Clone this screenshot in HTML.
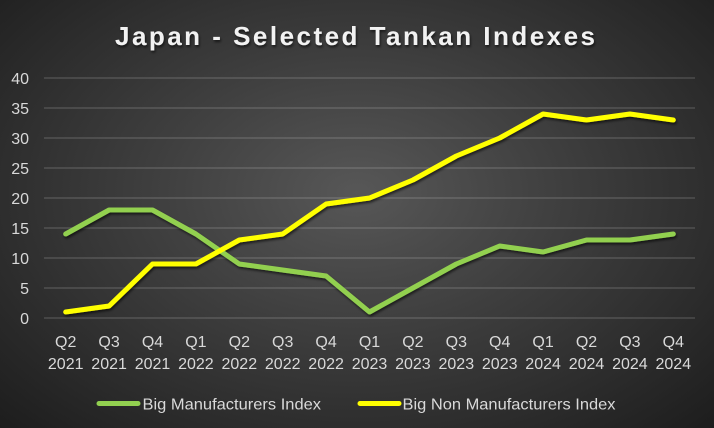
<!DOCTYPE html>
<html><head><meta charset="utf-8"><style>
html,body{margin:0;padding:0;}
body{width:714px;height:428px;overflow:hidden;background:radial-gradient(ellipse farthest-corner at 50% 45%,#575757 0%,#3f3f3f 40%,#1d1d1d 100%);}
svg{display:block;}
text{font-family:"Liberation Sans",sans-serif;}
</style></head><body>
<svg width="714" height="428" viewBox="0 0 714 428" xmlns="http://www.w3.org/2000/svg">
<defs>
<filter id="sh" x="-10%" y="-10%" width="120%" height="140%">
<feDropShadow dx="1" dy="2" stdDeviation="1.2" flood-color="#000" flood-opacity="0.6"/>
</filter>
</defs>
<text x="115" y="45" font-size="26" font-weight="bold" fill="#f2f2f2" textLength="480" lengthAdjust="spacing" filter="url(#sh)">Japan - Selected Tankan Indexes</text>
<g stroke="#ffffff" stroke-opacity="0.16" stroke-width="1.5">
<line x1="44" y1="78" x2="695" y2="78"/>
<line x1="44" y1="108" x2="695" y2="108"/>
<line x1="44" y1="138" x2="695" y2="138"/>
<line x1="44" y1="168" x2="695" y2="168"/>
<line x1="44" y1="198" x2="695" y2="198"/>
<line x1="44" y1="228" x2="695" y2="228"/>
<line x1="44" y1="258" x2="695" y2="258"/>
<line x1="44" y1="288" x2="695" y2="288"/>
<line x1="44" y1="318" x2="695" y2="318"/>
</g>
<g fill="#d9d9d9" font-size="16" text-anchor="end">
<text x="29" y="84">40</text>
<text x="29" y="114">35</text>
<text x="29" y="144">30</text>
<text x="29" y="174">25</text>
<text x="29" y="204">20</text>
<text x="29" y="234">15</text>
<text x="29" y="264">10</text>
<text x="29" y="294">5</text>
<text x="29" y="324">0</text>
</g>
<g fill="#d9d9d9" font-size="16" text-anchor="middle">
<text x="65.7" y="347">Q2</text><text x="65.7" y="369">2021</text>
<text x="109.1" y="347">Q3</text><text x="109.1" y="369">2021</text>
<text x="152.5" y="347">Q4</text><text x="152.5" y="369">2021</text>
<text x="195.9" y="347">Q1</text><text x="195.9" y="369">2022</text>
<text x="239.3" y="347">Q2</text><text x="239.3" y="369">2022</text>
<text x="282.7" y="347">Q3</text><text x="282.7" y="369">2022</text>
<text x="326.1" y="347">Q4</text><text x="326.1" y="369">2022</text>
<text x="369.5" y="347">Q1</text><text x="369.5" y="369">2023</text>
<text x="412.9" y="347">Q2</text><text x="412.9" y="369">2023</text>
<text x="456.3" y="347">Q3</text><text x="456.3" y="369">2023</text>
<text x="499.7" y="347">Q4</text><text x="499.7" y="369">2023</text>
<text x="543.1" y="347">Q1</text><text x="543.1" y="369">2024</text>
<text x="586.5" y="347">Q2</text><text x="586.5" y="369">2024</text>
<text x="629.9" y="347">Q3</text><text x="629.9" y="369">2024</text>
<text x="673.3" y="347">Q4</text><text x="673.3" y="369">2024</text>
</g>
<g fill="none" stroke-width="5" stroke-linejoin="round" stroke-linecap="round" filter="url(#sh)">
<polyline stroke="#92d050" points="65.7,234 109.1,210 152.5,210 195.9,234 239.3,264 282.7,270 326.1,276 369.5,312 412.9,288 456.3,264 499.7,246 543.1,252 586.5,240 629.9,240 673.3,234"/>
<polyline stroke="#ffff00" points="65.7,312 109.1,306 152.5,264 195.9,264 239.3,240 282.7,234 326.1,204 369.5,198 412.9,180 456.3,156 499.7,138 543.1,114 586.5,120 629.9,114 673.3,120"/>
</g>
<line x1="99" y1="403.5" x2="138" y2="403.5" stroke="#92d050" stroke-width="5" stroke-linecap="round"/>
<text x="142.5" y="409.5" font-size="16" fill="#d9d9d9" textLength="178.5" lengthAdjust="spacingAndGlyphs">Big Manufacturers Index</text>
<line x1="360" y1="403.5" x2="399" y2="403.5" stroke="#ffff00" stroke-width="5" stroke-linecap="round"/>
<text x="402.5" y="409.5" font-size="16" fill="#d9d9d9" textLength="213" lengthAdjust="spacingAndGlyphs">Big Non Manufacturers Index</text>
</svg>
</body></html>
